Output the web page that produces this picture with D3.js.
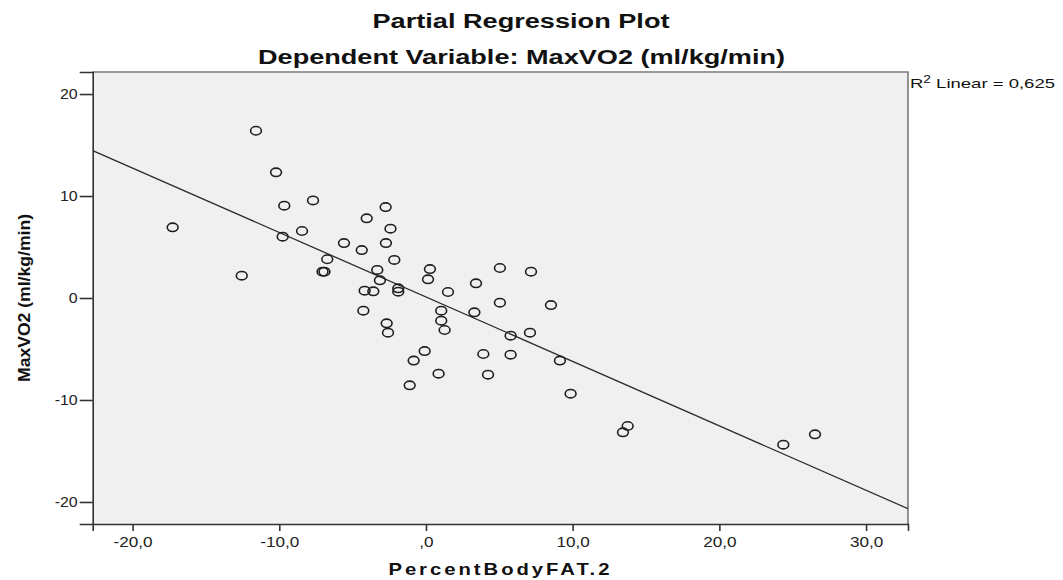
<!DOCTYPE html>
<html>
<head>
<meta charset="utf-8">
<script src="https://cdn.jsdelivr.net/npm/d3@7"></script>
<style>
  html, body { margin: 0; padding: 0; background: #ffffff; }
  svg { display: block; }
  text { font-family: Arial, "Liberation Sans", sans-serif; }
</style>
</head>
<body>
<svg id="chart" width="1063" height="580"></svg>
<script>
// ---- data ----
const percentBodyFat = [
  -17.27, -12.56, -11.59, -10.22, -9.66, -9.77, -8.45, -7.70, -7.05, -6.92,
  -6.73, -5.59, -4.38, -4.18, -4.27, -4.04, -3.59, -3.32, -3.14, -2.75,
  -2.73, -2.68, -2.59, -2.42, -2.16, -1.89, -1.89, -1.11, -0.84, -0.09,
  0.14, 0.27, 0.86, 1.04, 1.04, 1.27, 1.50, 3.30, 3.41, 3.91,
  4.23, 5.04, 5.04, 5.77, 5.77, 7.09, 7.16, 8.52, 9.13, 9.86,
  13.43, 13.75, 24.36, 26.52
];
const maxVO2 = [
  6.93, 2.19, 16.40, 12.32, 9.05, 6.01, 6.57, 9.57, 2.58, 2.58,
  3.80, 5.39, 4.70, 0.72, -1.24, 7.81, 0.65, 2.75, 1.73, 8.92,
  5.39, -2.48, -3.40, 6.80, 3.73, 0.95, 0.62, -8.56, -6.14, -5.20,
  1.83, 2.84, -7.42, -1.24, -2.22, -3.14, 0.59, -1.40, 1.44, -5.49,
  -7.52, 2.94, -0.46, -3.69, -5.56, -3.40, 2.58, -0.69, -6.14, -9.38,
  -13.17, -12.55, -14.38, -13.37
];
const xTickValues = [-20, -10, 0, 10, 20, 30];
const xTickLabels = ["-20,0", "-10,0", ",0", "10,0", "20,0", "30,0"];
const yTickValues = [-20, -10, 0, 10, 20];
const yTickLabels = ["-20", "-10", "0", "10", "20"];
const fitIntercept = 0.1;
const fitSlope = -0.632;
const xDomain = [-22.72, 32.86];
const yDomain = [-22.16, 22.16];
const titleText = "Partial Regression Plot";
const subtitleText = "Dependent Variable: MaxVO2 (ml/kg/min)";
const xAxisTitle = "PercentBodyFAT.2";
const yAxisTitle = "MaxVO2 (ml/kg/min)";
const r2Value = "0,625";

// ---- layout ----
const svg = d3.select("#chart");
const plot = { left: 92.7, right: 908, top: 72, bottom: 524 };
const x = d3.scaleLinear().domain(xDomain).range([plot.left, plot.right]);
const y = d3.scaleLinear().domain(yDomain).range([plot.bottom, plot.top]);

function stretch(sel, factor) {
  sel.each(function () {
    const w = this.getComputedTextLength();
    d3.select(this).attr("textLength", w * factor).attr("lengthAdjust", "spacingAndGlyphs");
  });
}

// background frame
svg.append("rect")
  .attr("x", plot.left).attr("y", plot.top)
  .attr("width", plot.right - plot.left).attr("height", plot.bottom - plot.top)
  .attr("fill", "#f0f0f0");

svg.append("defs").append("clipPath").attr("id", "clip")
  .append("rect")
  .attr("x", plot.left).attr("y", plot.top)
  .attr("width", plot.right - plot.left).attr("height", plot.bottom - plot.top);

// top and right frame lines (gray)
svg.append("path")
  .attr("d", `M${plot.left},${plot.top}H${plot.right}V${plot.bottom}`)
  .attr("fill", "none").attr("stroke", "#7a7a7a").attr("stroke-width", 1.6);

// axes
const xAxis = d3.axisBottom(x).tickValues(xTickValues)
  .tickFormat((d, i) => xTickLabels[i]).tickSizeOuter(0).tickSize(7).tickPadding(6);
const gx = svg.append("g").attr("transform", `translate(0,${plot.bottom})`).call(xAxis);
gx.select(".domain").attr("stroke", "#333").attr("stroke-width", 1.6);
gx.selectAll(".tick line").attr("stroke", "#333").attr("stroke-width", 1.6);
gx.selectAll(".tick text").attr("font-size", 14.5).attr("fill", "#222")
  .attr("font-family", "Arial, 'Liberation Sans', sans-serif");
stretch(gx.selectAll(".tick text"), 1.18);

const yAxis = d3.axisLeft(y).tickValues(yTickValues)
  .tickFormat((d, i) => yTickLabels[i]).tickSizeOuter(0).tickSize(13).tickPadding(2);
const gy = svg.append("g").attr("transform", `translate(${plot.left},0)`).call(yAxis);
gy.select(".domain").attr("stroke", "#333").attr("stroke-width", 1.6);
gy.selectAll(".tick line").attr("stroke", "#333").attr("stroke-width", 1.6);
gy.selectAll(".tick text").attr("font-size", 14.5).attr("fill", "#222")
  .attr("font-family", "Arial, 'Liberation Sans', sans-serif");
stretch(gy.selectAll(".tick text"), 1.1);

// fit line
const plotG = svg.append("g").attr("clip-path", "url(#clip)");
plotG.append("line")
  .attr("x1", x(xDomain[0])).attr("y1", y(fitIntercept + fitSlope * xDomain[0]))
  .attr("x2", x(xDomain[1])).attr("y2", y(fitIntercept + fitSlope * xDomain[1]))
  .attr("stroke", "#2a2a2a").attr("stroke-width", 1.3);

// points
const points = percentBodyFat.map((v, i) => ({ x: v, y: maxVO2[i] }));
plotG.selectAll("ellipse.pt").data(points).enter().append("ellipse")
  .attr("class", "pt")
  .attr("cx", d => x(d.x)).attr("cy", d => y(d.y))
  .attr("rx", 5.4).attr("ry", 4.2)
  .attr("fill", "none").attr("stroke", "#1e1e1e").attr("stroke-width", 1.6);

// titles
svg.append("text").attr("x", 521).attr("y", 27.5).attr("text-anchor", "middle")
  .attr("font-size", 19.5).attr("font-weight", "bold").attr("fill", "#111")
  .attr("textLength", 297).attr("lengthAdjust", "spacingAndGlyphs")
  .text(titleText);
svg.append("text").attr("x", 521.5).attr("y", 64).attr("text-anchor", "middle")
  .attr("font-size", 19.5).attr("font-weight", "bold").attr("fill", "#111")
  .attr("textLength", 527).attr("lengthAdjust", "spacingAndGlyphs")
  .text(subtitleText);

// axis titles
svg.append("text").attr("x", 500.4).attr("y", 575).attr("text-anchor", "middle")
  .attr("font-size", 17).attr("font-weight", "bold").attr("fill", "#111")
  .attr("letter-spacing", 2.5)
  .attr("textLength", 224).attr("lengthAdjust", "spacingAndGlyphs")
  .text(xAxisTitle);
svg.append("text")
  .attr("transform", `translate(30,298) rotate(-90)`)
  .attr("text-anchor", "middle")
  .attr("font-size", 17).attr("font-weight", "bold").attr("fill", "#111")
  .attr("font-family", "'Liberation Sans Narrow', 'Arial Narrow', Arial, sans-serif")
  .attr("textLength", 168).attr("lengthAdjust", "spacingAndGlyphs")
  .text(yAxisTitle);

// R² label
const r2 = svg.append("text").attr("x", 910).attr("y", 87.5)
  .attr("font-size", 13.5).attr("fill", "#111");
r2.append("tspan").text("R");
r2.append("tspan").attr("dy", -5).attr("font-size", 10).text("2");
r2.append("tspan").attr("dy", 5).text(" Linear = " + r2Value);
r2.attr("textLength", 145).attr("lengthAdjust", "spacingAndGlyphs");
</script>
</body>
</html>
